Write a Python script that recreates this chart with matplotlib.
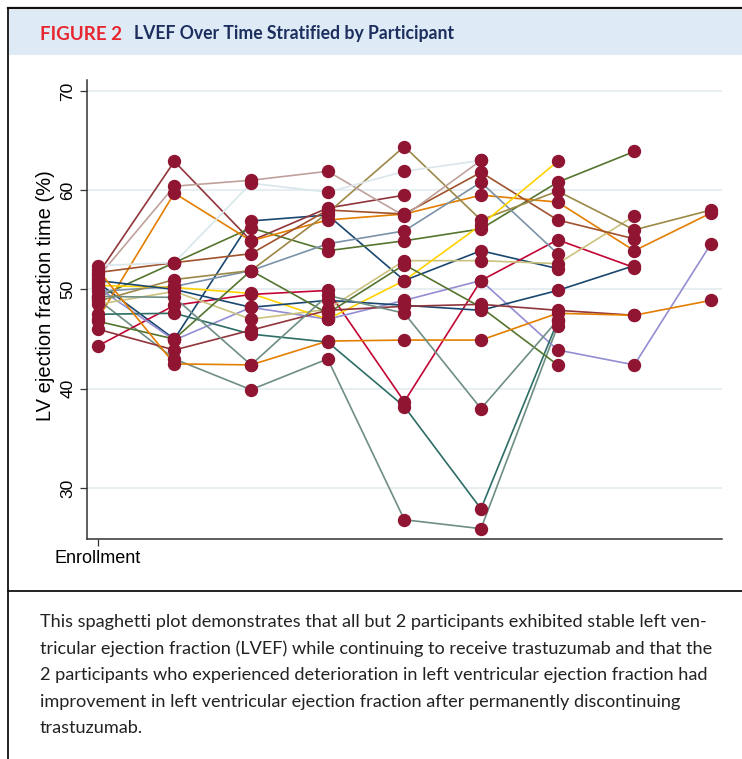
import numpy as np
import matplotlib
matplotlib.use("Agg")
import matplotlib.pyplot as plt
from matplotlib.lines import Line2D
from matplotlib.patches import Rectangle

# LVEF (%) per participant, one value per visit starting at enrollment
navy1 = [50.7, 45.0, 56.9, 57.5, 50.9, 53.9, 52.1]
maroon1 = [51.5, 62.9, 54.9, 58.2, 59.5]
green1 = [49.2, 52.7, 56.2, 53.9, 54.9, 56.1, 60.8, 63.9]
orange1 = [47.0, 59.7, 54.9, 57.0, 57.6, 59.5, 58.8, 53.9, 57.7]
teal1 = [49.0, 43.0, 39.9, 43.0, 26.8, 25.9, 46.3]
cranberry = [44.3, 48.4, 49.5, 49.9, 38.7, 50.9, 55.0, 52.2]
lavender = [50.2, 44.9, 48.2, 47.0, 48.9, 50.9, 43.9, 42.4, 54.6]
khaki = [48.5, 49.8, 47.0, 48.0, 52.9, 52.9, 52.6, 57.4]
sienna = [51.7, 52.7, 53.6, 58.0, 57.6, 61.8, 57.0, 55.1]
emidblue = [49.8, 50.3, 51.9, 54.6, 55.9, 60.8, 53.6]
emerald = [47.5, 47.6, 45.5, 44.7, 38.2, 27.9, 46.8]
olive = [48.8, 51.0, 51.9, 57.7, 64.4, 57.0, 59.9, 56.0, 58.0]
erose = [51.2, 60.4, 61.0, 61.9, 57.4, 63.0]
gold = [50.4, 50.2, 49.6, 47.0, 50.9, 56.5, 62.9]
bluishgray = [52.4, 52.7, 60.7, 59.8, 61.9, 63.0]
navy2 = [50.9, 50.0, 48.2, 48.9, 48.4, 47.9, 49.9, 52.4]
maroon2 = [46.0, 43.9, 45.9, 47.9, 48.3, 48.5, 47.9, 47.4]
green2 = [46.8, 45.0, 51.9, 47.6, 52.5, 48.2, 42.4]
orange2 = [52.0, 42.5, 42.4, 44.8, 44.9, 44.9, 47.6, 47.4, 48.9]
teal2 = [49.3, 49.2, 42.4, 49.4, 47.6, 38.0, 46.9]

participants = [navy1, maroon1, green1, orange1, teal1, cranberry, lavender,
                khaki, sienna, emidblue, emerald, olive, erose, gold,
                bluishgray, navy2, maroon2, green2, orange2, teal2]
colors = ["#1a476f", "#90353b", "#55752f", "#e37e00", "#6e8e84", "#c10534",
          "#938dd2", "#cac27e", "#a0522d", "#7b92a8", "#2d6d66", "#9c8847",
          "#bfa19c", "#ffd200", "#d9e6eb", "#1a476f", "#90353b", "#55752f",
          "#e37e00", "#6e8e84"]

yticks = [30, 40, 50, 60, 70]

caption_lines = [
    "This spaghetti plot demonstrates that all but 2 participants exhibited stable left ven-",
    "tricular ejection fraction (LVEF) while continuing to receive trastuzumab and that the",
    "2 participants who experienced deterioration in left ventricular ejection fraction had",
    "improvement in left ventricular ejection fraction after permanently discontinuing",
    "trastuzumab.",
]

W, H = 742, 759
fig = plt.figure(figsize=(W / 100, H / 100), dpi=100)
renderer = fig.canvas.get_renderer()


def fit_width(txt, target_px):
    # shrink/grow a text so that its width matches target_px
    bb = txt.get_window_extent(renderer)
    txt.set_fontsize(txt.get_fontsize() * target_px / bb.width)


# header band and frame
fig.add_artist(Rectangle((9 / W, 1 - 55 / H), 1, 45 / H, transform=fig.transFigure,
                         facecolor="#deeaf6", edgecolor="none", zorder=0))
fig.add_artist(Line2D([8 / W, 1], [1 - 8 / H, 1 - 8 / H], color="#111111", lw=1.6))
fig.add_artist(Line2D([8 / W, 8 / W], [0, 1 - 8 / H], color="#111111", lw=1.3))
fig.add_artist(Line2D([8 / W, 1], [1 - 591 / H, 1 - 591 / H], color="#111111", lw=1.3))

t1 = fig.text(40 / W, 1 - 34 / H, "FIGURE 2", color="#e8262f", fontsize=12,
              fontweight="bold", va="center", family="Lato")
fit_width(t1, 82)
t2 = fig.text(134 / W, 1 - 34 / H, "LVEF Over Time Stratified by Participant",
              color="#1c2f5e", fontsize=12, fontweight="bold", va="center", family="Lato")
fit_width(t2, 319)

cap_size = None
for i, line in enumerate(caption_lines):
    t = fig.text(40 / W, 1 - (622 + i * 26.5) / H, line, color="#222222", fontsize=12,
                 va="center", family="Lato")
    if i == 0:
        fit_width(t, 666)
        cap_size = t.get_fontsize()
    else:
        t.set_fontsize(cap_size)

ax = fig.add_axes([86.7 / W, 1 - 539 / H, (722 - 86.7) / W, (539 - 80) / H])

for vals, c in zip(participants, colors):
    ax.plot(range(len(vals)), vals, color=c, lw=1.2, zorder=2)
for vals in participants:
    ax.plot(range(len(vals)), vals, ls="none", marker="o", ms=8.6,
            color="#8f1533", zorder=3)

ax.set_xlim(-0.1435, 8.144)
ax.set_ylim(24.86, 71.1)
ax.set_yticks(yticks)
ax.set_yticklabels([str(t) for t in yticks], rotation=90, va="center",
                   fontsize=12.5, family="Liberation Sans")
ax.set_xticks([0])
ax.set_xticklabels(["Enrollment"], fontsize=13, family="Liberation Sans")
ax.grid(axis="y", color="#e6eef1", lw=1.4, zorder=0)
ax.set_axisbelow(True)
ax.set_ylabel("LV ejection fraction time (%)", fontsize=14.5, family="Liberation Sans",
              labelpad=3)
ax.yaxis.set_label_coords(-0.05, 0.53)
for s in ["top", "right"]:
    ax.spines[s].set_visible(False)
for s in ["left", "bottom"]:
    ax.spines[s].set_color("#333333")
    ax.spines[s].set_linewidth(1.1)
ax.tick_params(axis="both", length=5, width=0.9, color="#333333", pad=3)

fig.savefig("out.png", dpi=100)
